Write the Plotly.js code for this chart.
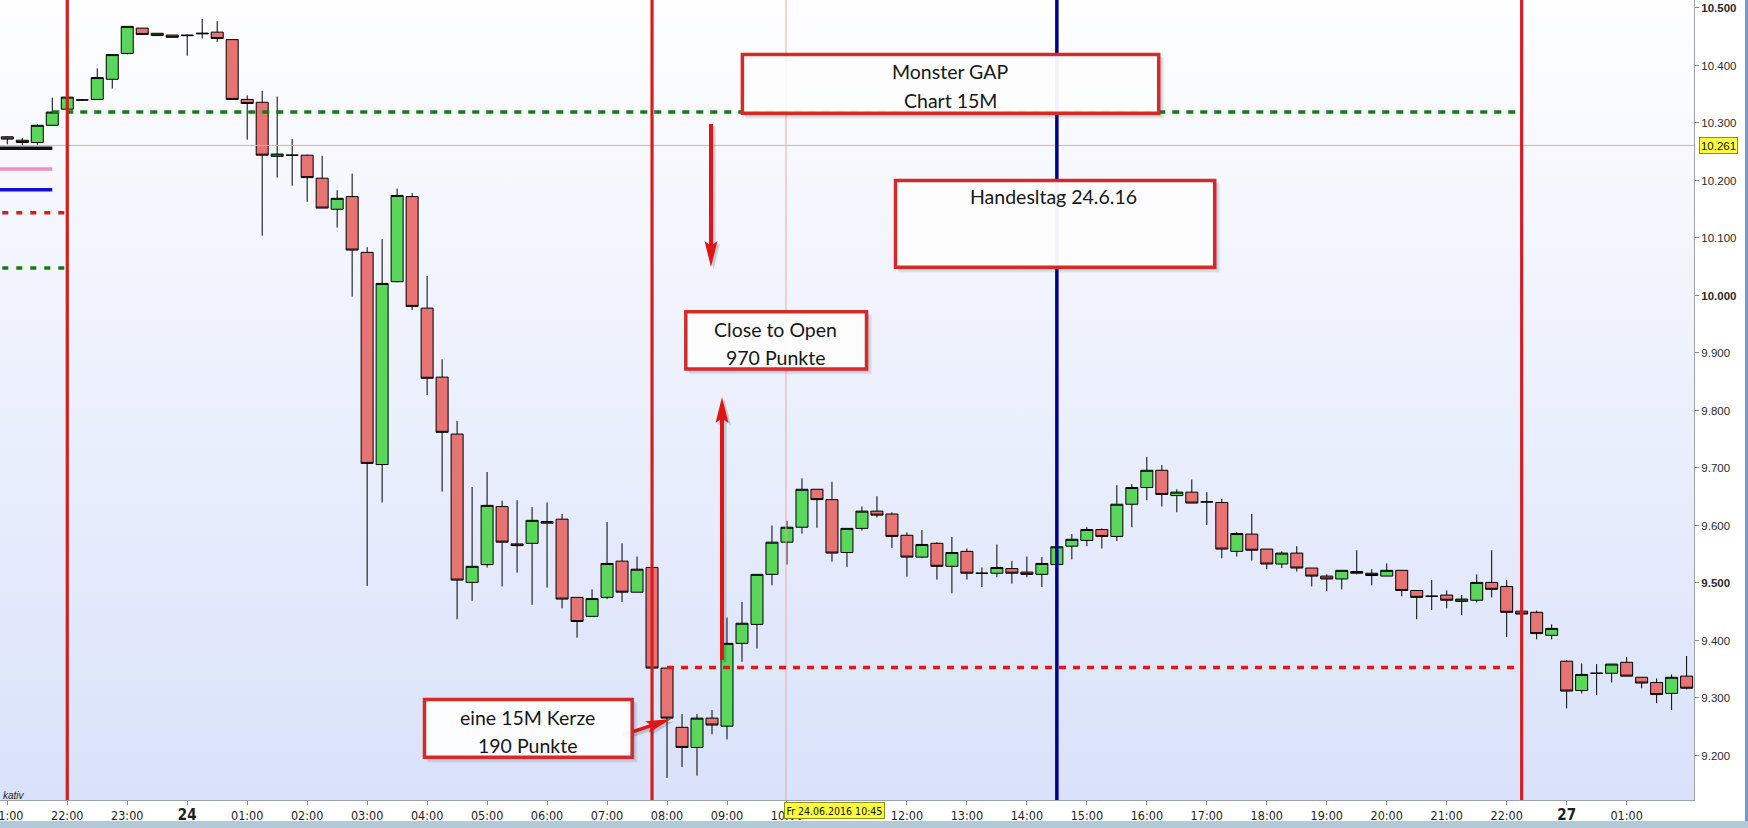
<!DOCTYPE html>
<html><head><meta charset="utf-8">
<script src="https://cdn.plot.ly/plotly-3.0.1.min.js"></script>
<style>
html,body{margin:0;padding:0;background:#fff;}
#chart{width:1748px;height:828px;position:relative;
background:
 linear-gradient(#7397d8,#7397d8) 1745px 0/3px 821px no-repeat,
 linear-gradient(#b2c9d8,#b2c9d8) 0 821px/1748px 7px no-repeat,
 linear-gradient(to bottom,#fefeff,#d9e2fa) 0 0/1694px 800px no-repeat,
 #ffffff;}
</style></head><body><div id="chart"></div>
<script>
// ---- candle times (15M) ----
const t23 = ['21:00','21:15','21:30','21:45','22:00','22:15','22:30','22:45','23:00','23:15','23:30','23:45'];
const t24 = [
 '00:00','00:15','00:30','00:45','01:00','01:15','01:30','01:45','02:00','02:15','02:30','02:45',
 '03:00','03:15','03:30','03:45','04:00','04:15','04:30','04:45','05:00','05:15','05:30','05:45',
 '06:00','06:15','06:30','06:45','07:00','07:15','07:30','07:45','08:00','08:15','08:30','08:45',
 '09:00','09:15','09:30','09:45','10:00','10:15','10:30','10:45','11:00','11:15','11:30','11:45',
 '12:00','12:15','12:30','12:45','13:00','13:15','13:30','13:45','14:00','14:15','14:30','14:45',
 '15:00','15:15','15:30','15:45','16:00','16:15','16:30','16:45','17:00','17:15','17:30','17:45',
 '18:00','18:15','18:30','18:45','19:00','19:15','19:30','19:45','20:00','20:15','20:30','20:45',
 '21:00','21:15','21:30','21:45','22:00','22:15','22:30','22:45'];
const t27 = ['00:00','00:15','00:30','00:45','01:00','01:15','01:30','01:45','02:00'];
const times = [...t23.map(t=>'2016-06-23 '+t), ...t24.map(t=>'2016-06-24 '+t), ...t27.map(t=>'2016-06-27 '+t)];

// ---- OHLC values ----
const open = [
 10276,10270,10266,10296, 10324,10340,10341,10376, 10421,10465,10452,10453,
 10453,10455,10458,10445, 10341,10336,10242,10244, 10244,10204,10150,10172,
 10075,9706,10024,10172, 9978,9858,9759,9501, 9532,9633,9568,9569,
 9604,9611,9475,9442, 9475,9538,9484,9527, 9352,9249,9214,9265,
 9251,9395,9428,9515, 9571,9597,9663,9645, 9553,9595,9625,9620,
 9583,9545,9569,9529, 9555,9517,9517,9525, 9519,9515,9532,9564,
 9574,9593,9581,9637, 9666,9696,9652,9658, 9641,9640,9555,9585,
 9559,9533,9552,9526, 9512,9507,9520,9517, 9512,9522,9487,9477,
 9479,9468,9470,9501, 9494,9451,9449,9409,
 9364,9313,9343,9343, 9362,9336,9327,9308, 9338];
const high = [
 10277,10274,10298,10344, 10346,10341,10395,10420, 10468,10465,10456,10453,
 10454,10481,10477,10445, 10348,10356,10346,10272, 10245,10243,10183,10212,
 10084,10098,10186,10178, 10034,9889,9782,9667, 9693,9643,9644,9632,
 9640,9620,9475,9489, 9606,9569,9546,9528, 9352,9272,9272,9279,
 9440,9467,9515,9600, 9608,9682,9663,9676, 9595,9633,9651,9623,
 9588,9592,9571,9580, 9560,9527,9567,9538, 9546,9545,9563,9585,
 9597,9595,9670,9672, 9719,9705,9663,9680, 9658,9646,9588,9620,
 9559,9555,9564,9526, 9515,9522,9557,9524, 9534,9522,9487,9505,
 9487,9479,9515,9557, 9505,9453,9452,9428,
 9366,9360,9359,9359, 9371,9336,9334,9341, 9373];
const low = [
 10263,10260,10262,10296, 10323,10339,10341,10360, 10419,10454,10452,10449,
 10417,10447,10441,10341, 10271,10104,10205,10191, 10163,10152,10118,9998,
 9495,9640,10023,9975, 9827,9659,9437,9469, 9527,9494,9518,9462,
 9492,9456,9405,9442, 9472,9467,9484,9351, 9161,9180,9165,9237,
 9228,9363,9386,9496, 9532,9586,9596,9537, 9528,9591,9614,9561,
 9511,9543,9506,9482, 9506,9493,9510,9499, 9510,9493,9532,9541,
 9564,9560,9573,9597, 9644,9633,9623,9639, 9601,9543,9546,9539,
 9524,9526,9520,9494, 9486,9489,9515,9496, 9512,9477,9437,9453,
 9456,9444,9466,9475, 9406,9445,9402,9402,
 9282,9308,9305,9327, 9338,9317,9291,9279, 9315];
const close = [
 10272,10266,10296,10319, 10345,10340,10379,10419, 10468,10454,10456,10449,
 10452,10456,10447,10341, 10334,10244,10246,10244, 10205,10152,10169,10079,
 9708,10021,10174,9981, 9856,9762,9505,9529, 9635,9571,9565,9609,
 9607,9472,9433,9473, 9534,9484,9524,9352, 9265,9214,9265,9253,
 9395,9430,9515,9571, 9597,9663,9645,9552, 9595,9625,9618,9581,
 9545,9567,9529,9553, 9517,9517,9527,9517, 9515,9534,9563,9576,
 9593,9581,9637,9666, 9696,9654,9658,9639, 9641,9559,9586,9557,
 9533,9552,9526,9512, 9507,9522,9517,9513, 9522,9487,9475,9477,
 9470,9472,9501,9489, 9449,9446,9412,9421,
 9312,9341,9343,9359, 9338,9326,9306,9336, 9317];

// ---- levels / markers ----
const prevCloseLevel = 10319;      // green dotted
const gapLevel = 9353;             // red dotted
const leftLevels = [10256, 10220, 10184, 10144, 10048];
const crossPrice = 10261;
const crossTime = '2016-06-24 09:59';
const redMarks = ['2016-06-23 22:00','2016-06-24 07:45','2016-06-24 22:15'];
const blueMark = '2016-06-24 14:30';

// ---- axes ----
const xTickVals = ['2016-06-23 21:00','2016-06-23 22:00','2016-06-23 23:00','2016-06-24 00:00','2016-06-24 01:00','2016-06-24 02:00',
 '2016-06-24 03:00','2016-06-24 04:00','2016-06-24 05:00','2016-06-24 06:00','2016-06-24 07:00','2016-06-24 08:00','2016-06-24 09:00',
 '2016-06-24 10:00','2016-06-24 12:00','2016-06-24 13:00','2016-06-24 14:00','2016-06-24 15:00','2016-06-24 16:00',
 '2016-06-24 17:00','2016-06-24 18:00','2016-06-24 19:00','2016-06-24 20:00','2016-06-24 21:00','2016-06-24 22:00','2016-06-27 00:00','2016-06-27 01:00'];
const xTickText = ['21:00','22:00','23:00','24','01:00','02:00','03:00','04:00','05:00','06:00','07:00','08:00','09:00',
 '10:00','12:00','13:00','14:00','15:00','16:00','17:00','18:00','19:00','20:00','21:00','22:00','27','01:00'];
const yTickVals = [9200,9300,9400,9500,9600,9700,9800,9900,10000,10100,10200,10300,10400,10500];
const yTickText = ['9.200','9.300','9.400','9.500','9.600','9.700','9.800','9.900','10.000','10.100','10.200','10.300','10.400','10.500'];
const yMajor = [9500,10000,10500];
const dayLabels = ['24','27'];

// ---- geometry helpers (pixels of the plot area -> paper) ----
const W = 1694, H = 800;
const px = x => x / W, py = y => 1 - y / H;

function boxShapes(x0,y0,x1,y1){
  return [
    {type:'rect',xref:'paper',yref:'paper',x0:px(x0+3),y0:py(y0+3),x1:px(x1+5),y1:py(y1+5),fillcolor:'rgba(70,70,70,0.13)',line:{width:0}},
    {type:'rect',xref:'paper',yref:'paper',x0:px(x0+2),y0:py(y0+2),x1:px(x1+3),y1:py(y1+3),fillcolor:'rgba(70,70,70,0.15)',line:{width:0}},
    {type:'rect',xref:'paper',yref:'paper',x0:px(x0),y0:py(y0),x1:px(x1),y1:py(y1),fillcolor:'rgba(255,255,255,0.95)',line:{color:'#d42a2a',width:3.5}}
  ];
}
function arrowShapes(x0,y0,x1,y1,hl,hw,sw){
  const dx=x1-x0, dy=y1-y0, L=Math.hypot(dx,dy), ux=dx/L, uy=dy/L, nx=-uy, ny=ux;
  const bx=x1-ux*hl, by=y1-uy*hl, kx=x1-ux*hl*0.82, ky=y1-uy*hl*0.82;
  const out=[];
  [[2.5,2.5,'rgba(60,60,60,0.22)'],[0,0,'#e21414']].forEach(([ox,oy,c])=>{
    out.push({type:'line',xref:'paper',yref:'paper',x0:px(x0+ox),y0:py(y0+oy),x1:px(kx+ox+ux),y1:py(ky+oy+uy),line:{color:c,width:sw}});
    out.push({type:'path',xref:'paper',yref:'paper',fillcolor:c,line:{width:0},
      path:'M'+px(x1+ox)+','+py(y1+oy)+' L'+px(bx+nx*hw/2+ox)+','+py(by+ny*hw/2+oy)+' L'+px(kx+ox)+','+py(ky+oy)+' L'+px(bx-nx*hw/2+ox)+','+py(by-ny*hw/2+oy)+' Z'});
  });
  return out;
}

const shapes = [];
// crosshair
shapes.push({type:'line',xref:'paper',yref:'y',x0:0,x1:1,y0:crossPrice,y1:crossPrice,line:{color:'#f0a4a4',width:1}});
shapes.push({type:'line',xref:'x',yref:'paper',x0:crossTime,x1:crossTime,y0:0,y1:1,line:{color:'#f0a4a4',width:1}});
// left level markers
const leftColors = ['#111111','#f28cc4','#1010d0','#dd1a1a','#0f7d0f'];
leftLevels.forEach((v,i)=>{
  const dashed = i>=3;
  shapes.push({type:'line',xref:'x',yref:'y',x0: dashed?'2016-06-23 20:55':'2016-06-23 20:52',x1: dashed?'2016-06-23 21:59':'2016-06-23 21:45',
    y0:v,y1:v,line:{color:leftColors[i],width:3.5,dash:dashed?'6px,8px':'solid'}});
});
// level lines
shapes.push({type:'line',xref:'x',yref:'y',x0:'2016-06-23 21:45',x1:'2016-06-24 22:12',y0:prevCloseLevel,y1:prevCloseLevel,line:{color:'#0f7d0f',width:3.5,dash:'7px,7px'}});
shapes.push({type:'line',xref:'x',yref:'y',x0:'2016-06-24 08:00',x1:'2016-06-24 22:12',y0:gapLevel,y1:gapLevel,line:{color:'#e01818',width:3.5,dash:'7px,7px'}});
// vertical session marks
redMarks.forEach(t=>shapes.push({type:'line',xref:'x',yref:'paper',x0:t,x1:t,y0:0,y1:1,line:{color:'#d21f1f',width:3.2}}));
shapes.push({type:'line',xref:'x',yref:'paper',x0:blueMark,x1:blueMark,y0:0,y1:1,line:{color:'#00008c',width:3.5}});
// arrows
shapes.push(...arrowShapes(711,124,711,267,26,13,4));
shapes.push(...arrowShapes(722,660,722,397,26,13,4));
shapes.push(...arrowShapes(623,735,671,719,25,12,3.5));
// text boxes
shapes.push(...boxShapes(742.4,54.4,1158.7,113.2));
shapes.push(...boxShapes(895.5,180.5,1214.7,267.3));
shapes.push(...boxShapes(685.8,311.8,866.5,369));
shapes.push(...boxShapes(424.5,699.5,632.2,757.2));

const boxFont = {family:'Lato, "Open Sans", sans-serif', size:19.5, color:'#161616'};
function txt(t,x,y){return {text:t,xref:'paper',yref:'paper',x:px(x),y:py(y),xanchor:'center',yanchor:'middle',showarrow:false,font:boxFont};}
const annotations = [
  txt('Monster GAP',950,72), txt('Chart 15M',950,100),
  txt('Handesltag 24.6.16',1053,197),
  txt('Close to Open',775,329.5), txt('970 Punkte',775,357.5),
  txt('eine 15M Kerze',527,717), txt('190 Punkte',527,745),
  {text:'10.261',xref:'paper',yref:'paper',x:px(1699),y:py(145.5),xanchor:'left',yanchor:'middle',showarrow:false,
   bgcolor:'#ffff3c',bordercolor:'#8c8c20',borderwidth:1,borderpad:1,width:35,height:13,
   font:{family:'Liberation Sans, Arial, sans-serif',size:11.5,color:'#111'}},
  {text:'Fr 24.06.2016 10:45',xref:'paper',yref:'paper',x:px(784),y:py(810),xanchor:'left',yanchor:'middle',showarrow:false,
   bgcolor:'#ffff3c',bordercolor:'#8c8c20',borderwidth:1,borderpad:1.5,
   font:{family:'"Liberation Sans Narrow", "Arial Narrow", "DejaVu Sans Condensed", sans-serif',size:10.5,color:'#111'}},
  {text:'<i>kativ</i>',xref:'paper',yref:'paper',x:px(1),y:py(795),xanchor:'left',yanchor:'middle',showarrow:false,
   font:{family:'Liberation Sans, Arial, sans-serif',size:10,color:'#222'}}
];

const trace = {
  type:'candlestick', x:times, open:open, high:high, low:low, close:close,
  increasing:{line:{color:'#000000',width:1},fillcolor:'#5ad65a'},
  decreasing:{line:{color:'#000000',width:1},fillcolor:'#e77373'},
  whiskerwidth:0, hoverinfo:'none', showlegend:false
};

const layout = {
  width:1748, height:828,
  margin:{l:0,r:54,t:0,b:28,pad:0},
  paper_bgcolor:'rgba(0,0,0,0)', plot_bgcolor:'rgba(0,0,0,0)',
  showlegend:false, boxgap:0.2, boxgroupgap:0,
  xaxis:{type:'date', range:['2016-06-23 20:52:42','2016-06-27 02:07:24'],
    rangebreaks:[{bounds:['2016-06-24 23:00','2016-06-27 00:00']}],
    rangeslider:{visible:false}, tickmode:'array', tickvals:xTickVals,
    ticktext:xTickText.map(t=>dayLabels.includes(t)?'<b><span style="font-size:15px">'+t+'</span></b>':t),
    ticks:'outside', ticklen:4, tickcolor:'#8c8c8c', showline:true, linecolor:'#9aa2aa', linewidth:1,
    showgrid:false, zeroline:false, ticklabeloverflow:'allow', fixedrange:true,
    tickfont:{family:'"Liberation Sans Narrow", "Arial Narrow", "DejaVu Sans Condensed", sans-serif',size:12.5,color:'#1e1e1e'}},
  yaxis:{side:'right', range:[9122.6,10513.9], tickmode:'array', tickvals:yTickVals,
    ticktext:yTickText.map((t,i)=>yMajor.includes(yTickVals[i])?'<b>'+t+'</b>':t),
    ticks:'outside', ticklen:4, tickcolor:'#8c8c8c', showline:true, linecolor:'#9aa2aa', linewidth:1,
    showgrid:false, zeroline:false, fixedrange:true,
    tickfont:{family:'Liberation Sans, Arial, sans-serif',size:11.5,color:'#2a2a2a'}},
  shapes:shapes, annotations:annotations
};

Plotly.newPlot('chart',[trace],layout,{displayModeBar:false,staticPlot:true});
</script></body></html>
